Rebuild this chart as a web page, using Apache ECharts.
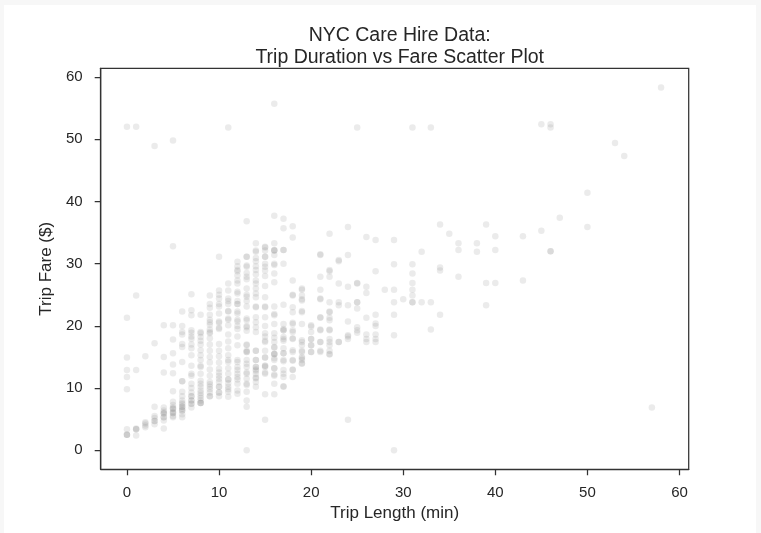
<!DOCTYPE html>
<html><head><meta charset="utf-8">
<script src="https://cdn.jsdelivr.net/npm/echarts@6/dist/echarts.min.js"></script>
<style>html,body{margin:0;padding:0;background:#f7f7f7;width:761px;height:533px;overflow:hidden}
#c{position:absolute;left:4px;top:5px;width:752px;height:528px;background:#fff}</style>
</head><body><div id="c"></div>
<script>
// Trip length (minutes) columns and the fares observed at each
const minutes = [0,1,2,3,4,5,6,7,8,9,10,11,12,13,14,15,16,17,18,19,20,21,22,23,24,25,26,27,28,29,30,31,32,33,34,35,36,38,39,40,43,45,46,47,50,53,54,57,58];
const faresByMinute = [
  [52, 21.3, 14.9, 12.9, 11.8, 9.8, 3.4, 2.5, 2.5, 2.5],
  [52, 24.9, 12.9, 3.4, 3.4, 3.5, 2.4],
  [15.1, 4.3, 4.5, 3.7, 4.0],
  [48.9, 17.2, 7.0, 5.2, 4.7, 4.7, 4.2, 5.5],
  [20.1, 15.0, 12.5, 6.9, 6.4, 5.9, 5.9, 5.3, 5.3, 4.8, 3.5, 6.1],
  [49.8, 32.8, 20.1, 17.8, 15.6, 13.8, 12.4, 9.5, 7.8, 7.3, 6.7, 6.7, 6.0, 6.0, 5.5, 5.3, 6.2, 6.9],
  [22.3, 20.0, 19.0, 18.6, 17.1, 16.6, 14.2, 11.1, 11.1, 9.4, 8.7, 8.0, 7.6, 7.0, 7.0, 6.4, 6.4, 5.8, 5.3, 7.4, 6.7],
  [25.1, 22.5, 21.7, 19.3, 18.9, 18.3, 17.9, 17.0, 16.4, 15.3, 13.6, 12.3, 12.0, 10.7, 10.0, 9.3, 8.7, 8.7, 8.0, 8.0, 7.5, 6.9, 7.5],
  [21.8, 19.0, 18.8, 18.2, 17.6, 17.0, 16.1, 15.3, 14.5, 13.6, 13.4, 12.3, 11.2, 10.7, 9.6, 8.8, 8.0, 7.6, 7.6, 7.6, 8.4, 9.2, 10.2],
  [24.9, 23.5, 22.9, 21.8, 21.0, 20.2, 19.4, 18.8, 18.0, 17.0, 16.0, 15.0, 14.1, 13.0, 12.0, 11.0, 10.2, 9.3, 8.7, 8.7, 9.8, 10.6, 19.0, 20.6],
  [31.1, 25.7, 25.0, 24.4, 23.5, 23.1, 22.0, 20.7, 20.5, 19.7, 19.5, 17.1, 16.0, 15.1, 14.1, 13.1, 12.0, 11.0, 10.2, 10.2, 9.3, 9.3, 8.7, 11.5, 12.5],
  [51.9, 26.8, 25.7, 24.4, 24.0, 23.5, 22.3, 22.4, 21.2, 21.0, 20.1, 18.6, 17.5, 16.4, 15.3, 14.5, 14.2, 13.2, 12.3, 11.4, 10.2, 9.8, 9.4, 8.6, 11.4, 10.8],
  [30.3, 29.6, 29.0, 28.8, 28.1, 27.3, 26.8, 25.2, 25.5, 24.0, 23.5, 23.5, 22.3, 22.0, 21.0, 20.7, 20.0, 19.5, 18.3, 16.9, 14.5, 14.2, 13.4, 12.9, 12.3, 11.4, 10.7, 9.6, 9.1, 11.8],
  [36.8, 31.1, 31.1, 29.7, 29.5, 28.5, 27.9, 27.5, 26.0, 25.0, 24.7, 24.0, 23.1, 21.2, 20.9, 20.0, 19.8, 19.2, 17.0, 16.9, 16.0, 15.8, 15.8, 14.5, 13.9, 13.4, 12.5, 12.3, 11.5, 10.7, 10.5, 9.4, 8.0, 7.0, 0],
  [33.3, 31.9, 32.1, 30.9, 30.4, 29.6, 29.0, 28.3, 27.3, 26.8, 26.0, 25.2, 24.6, 23.1, 23.0, 21.4, 20.6, 19.8, 19.0, 16.0, 16.0, 14.5, 14.5, 13.4, 13.4, 13.0, 12.8, 12.3, 11.7, 11.6, 11.0, 10.2],
  [32.7, 32.6, 32.1, 31.1, 31.1, 30.0, 29.5, 28.9, 28.0, 26.4, 24.6, 23.1, 23.0, 21.4, 20.0, 18.8, 18.3, 17.6, 17.4, 16.0, 14.9, 14.9, 13.6, 13.6, 13.4, 12.5, 12.3, 9.0, 4.9],
  [55.7, 37.7, 33.3, 32.2, 32.1, 32.1, 31.4, 30.0, 29.8, 28.4, 27.0, 23.1, 21.9, 21.7, 20.3, 18.8, 18.1, 17.4, 16.6, 16.5, 15.5, 15.5, 15.5, 14.8, 14.5, 13.2, 13.2, 12.2, 12.0, 10.7, 9.0],
  [37.2, 35.7, 32.2, 32.2, 30.0, 23.4, 20.3, 19.5, 19.3, 19.3, 18.2, 17.9, 17.6, 16.4, 15.6, 15.6, 14.5, 14.3, 12.9, 12.3, 11.8, 10.3, 10.2],
  [36.0, 34.2, 27.3, 25.0, 24.9, 23.0, 22.2, 20.5, 20.3, 19.3, 19.0, 18.0, 17.9, 16.1, 15.8, 14.5, 14.4, 13.0, 12.9, 11.8],
  [26.0, 25.8, 24.9, 24.3, 24.1, 22.4, 22.2, 20.3, 17.7, 17.4, 16.9, 16.0, 15.8, 15.0, 14.8, 14.5, 14.0, 13.9],
  [20.1, 19.9, 19.0, 17.9, 17.9, 16.9, 16.9, 15.8, 15.8],
  [31.4, 31.5, 27.9, 25.8, 24.4, 24.3, 21.4, 21.3, 19.4, 19.3, 17.4, 17.4, 16.0, 15.8],
  [34.8, 29.0, 28.8, 27.9, 23.8, 22.3, 22.2, 21.3, 20.9, 19.4, 19.3, 17.9, 17.4, 16.9, 16.0, 15.5, 15.4],
  [30.6, 30.4, 26.8, 23.8, 23.3, 17.4, 17.4],
  [35.9, 31.4, 26.3, 23.3, 20.7, 18.5, 18.3, 17.9, 4.9],
  [51.9, 26.8, 26.9, 23.8, 23.8, 22.8, 19.8, 19.3, 18.9],
  [34.3, 26.3, 25.3, 21.3, 18.6, 17.9, 17.4],
  [33.8, 28.8, 21.8, 20.4, 20.0, 18.6, 17.9, 17.4],
  [25.8],
  [33.8, 29.9, 25.8, 23.8, 21.8, 18.5, 0],
  [24.3],
  [51.9, 29.9, 28.4, 26.9, 25.8, 24.9, 23.8, 23.8],
  [31.9, 23.8],
  [51.9, 23.8, 19.4],
  [36.3, 29.4, 28.9, 21.8],
  [34.8],
  [33.3, 32.2, 27.9],
  [33.3, 31.9],
  [36.3, 26.9, 23.3],
  [34.4, 32.2, 26.9],
  [34.4, 27.3],
  [52.4, 35.3],
  [52.4, 51.9, 32.0, 32.0],
  [37.4],
  [41.4, 35.9],
  [49.4],
  [47.3],
  [6.9],
  [58.3]
];
const xTicks = [0, 10, 20, 30, 40, 50, 60];
const yTicks = [0, 10, 20, 30, 40, 50, 60];

const points = [];
minutes.forEach((m, i) => faresByMinute[i].forEach(f => points.push([m, f])));

const OX = 4, OY = 5;
const FONT = 'Liberation Sans, Arial, sans-serif';
const INK = '#262626';
const chart = echarts.init(document.getElementById('c'), null, {renderer: 'canvas'});
chart.setOption({
  animation: false,
  backgroundColor: '#ffffff',
  title: {
    text: 'NYC Care Hire Data:\nTrip Duration vs Fare Scatter Plot',
    left: 394.7 - OX, top: 15, textAlign: 'center',
    textStyle: {fontFamily: FONT, fontSize: 19.5, fontWeight: 'normal', color: INK, lineHeight: 22}
  },
  grid: {
    left: 100.7 - OX, right: 756 - 688.7, top: 68.3 - OY, bottom: 533 - 469.3,
    show: true, borderColor: '#333333', borderWidth: 1.25, backgroundColor: 'transparent',
    containLabel: false, outerBoundsMode: 'none'
  },
  xAxis: {
    type: 'value', min: -2.85, max: 61.0,
    splitLine: {show: false},
    axisLine: {show: true, onZero: false, lineStyle: {color: '#333333', width: 1.25}},
    axisTick: {show: true, length: 6, customValues: xTicks, lineStyle: {color: '#333333', width: 1.25}},
    axisLabel: {customValues: xTicks, margin: 16, fontSize: 15, color: INK, fontFamily: FONT},
    name: 'Trip Length (min)', nameLocation: 'middle', nameGap: 35,
    nameTextStyle: {fontSize: 17, color: INK, fontFamily: FONT}
  },
  yAxis: {
    type: 'value', min: -3.05, max: 61.4,
    splitLine: {show: false},
    axisLine: {show: true, onZero: false, lineStyle: {color: '#333333', width: 1.25}},
    axisTick: {show: true, length: 6, customValues: yTicks, lineStyle: {color: '#333333', width: 1.25}},
    axisLabel: {customValues: yTicks, margin: 18, fontSize: 15, color: INK, fontFamily: FONT},
    name: 'Trip Fare ($)', nameLocation: 'middle', nameGap: 45,
    nameTextStyle: {fontSize: 17, color: INK, fontFamily: FONT}
  },
  series: [{
    type: 'scatter', data: points, symbolSize: 6.5, silent: true,
    itemStyle: {color: '#808080', opacity: 0.16}
  }]
});
</script></body></html>
